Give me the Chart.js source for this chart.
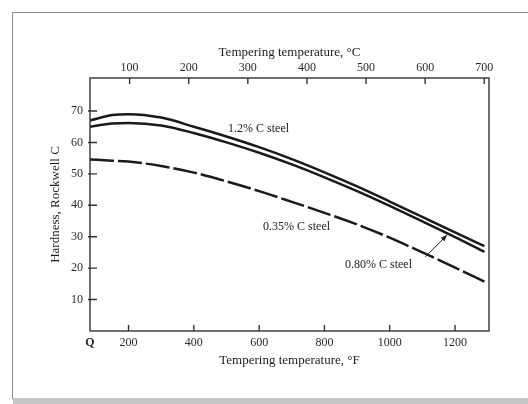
<!DOCTYPE html>
<html>
<head>
<meta charset="utf-8">
<script src="https://cdn.jsdelivr.net/npm/chart.js@4/dist/chart.umd.min.js"></script>
<style>
  html, body { margin: 0; padding: 0; background: #fff; }
  #wrap { position: relative; width: 528px; height: 404px; overflow: hidden; }
  #frame { position: absolute; left: 12px; top: 12px; width: 600px; height: 386px;
           border-left: 1.5px solid #8a8a8a; border-top: 1.5px solid #8a8a8a; }
  #band { position: absolute; left: 13px; top: 398px; width: 520px; height: 6px; background: #c6c6c6; }
  canvas { position: absolute; left: 0; top: 0; }
</style>
</head>
<body>
<div id="wrap">
  <div id="frame"></div>
  <div id="band"></div>
  <canvas id="hardnessChart" width="528" height="404"></canvas>
</div>
<script>
// Tempering temperature (°F) and hardness
const tempF    = [82, 150, 200, 300, 400, 500, 600, 700, 800, 900, 1000, 1100, 1200, 1290];
const steel120 = [67.0, 68.7, 69.0, 67.9, 65.0, 61.9, 58.5, 54.7, 50.5, 46.0, 41.2, 36.3, 31.4, 27.0];
const steel080 = [65.0, 66.0, 66.2, 65.4, 63.0, 60.0, 56.7, 53.0, 48.9, 44.5, 39.8, 34.9, 29.9, 25.2];
const steel035 = [54.6, 54.2, 53.9, 52.5, 50.4, 47.6, 44.5, 41.1, 37.6, 33.9, 29.7, 25.0, 20.2, 15.7];

// axis ticks
const tickF = [82, 200, 400, 600, 800, 1000, 1200];   // first one is "Q" (as quenched)
const tickC = [100, 200, 300, 400, 500, 600, 700];
const tickHardness = [10, 20, 30, 40, 50, 60, 70];

// curve labels, in data units (°F, HRC)
const labels = [
  { text: '1.2% C steel',  x: 505, y: 64.4 },
  { text: '0.35% C steel', x: 612, y: 33.0 },
  { text: '0.80% C steel', x: 863, y: 21.0 }
];
const arrowFrom = { x: 1109, y: 23.6 };
const arrowTo   = { x: 1176, y: 30.6 };

const serif = '"Liberation Serif", "DejaVu Serif", serif';
const ink = '#1a1a1a';

function toPoints(ys) {
  return tempF.map((t, i) => ({ x: t, y: ys[i] }));
}

const frameAndNotes = {
  id: 'frameAndNotes',
  afterDatasetsDraw(chart) {
    const { ctx, chartArea: a, scales } = chart;
    ctx.save();
    ctx.strokeStyle = '#333';
    ctx.lineWidth = 1.4;
    ctx.strokeRect(a.left, a.top, a.right - a.left, a.bottom - a.top);

    // inward tick marks
    ctx.beginPath();
    tickHardness.forEach(v => {
      const y = scales.y.getPixelForValue(v);
      ctx.moveTo(a.left - 2, y); ctx.lineTo(a.left + 7, y);
    });
    tickF.slice(1).forEach(v => {
      const x = scales.x.getPixelForValue(v);
      ctx.moveTo(x, a.bottom); ctx.lineTo(x, a.bottom - 6);
    });
    tickC.forEach(v => {
      const x = scales.x2.getPixelForValue(v);
      ctx.moveTo(x, a.top); ctx.lineTo(x, a.top + 6);
    });
    ctx.stroke();

    // curve labels
    ctx.fillStyle = '#222';
    ctx.font = '12px ' + serif;
    ctx.textBaseline = 'middle';
    ctx.textAlign = 'left';
    labels.forEach(l => {
      ctx.fillText(l.text, scales.x.getPixelForValue(l.x), scales.y.getPixelForValue(l.y));
    });

    // arrow from 0.80% label to its curve
    const x0 = scales.x.getPixelForValue(arrowFrom.x), y0 = scales.y.getPixelForValue(arrowFrom.y);
    const x1 = scales.x.getPixelForValue(arrowTo.x),   y1 = scales.y.getPixelForValue(arrowTo.y);
    ctx.strokeStyle = '#222';
    ctx.lineWidth = 1;
    ctx.beginPath(); ctx.moveTo(x0, y0); ctx.lineTo(x1, y1); ctx.stroke();
    const ang = Math.atan2(y1 - y0, x1 - x0);
    ctx.beginPath();
    ctx.moveTo(x1, y1);
    ctx.lineTo(x1 - 7 * Math.cos(ang - 0.35), y1 - 7 * Math.sin(ang - 0.35));
    ctx.lineTo(x1 - 7 * Math.cos(ang + 0.35), y1 - 7 * Math.sin(ang + 0.35));
    ctx.closePath();
    ctx.fillStyle = '#222';
    ctx.fill();
    ctx.restore();
  }
};

const lineStyle = {
  borderColor: ink,
  borderWidth: 2.5,
  pointRadius: 0,
  fill: false,
  cubicInterpolationMode: 'monotone'
};

new Chart(document.getElementById('hardnessChart').getContext('2d'), {
  type: 'line',
  data: {
    datasets: [
      Object.assign({ label: '1.2% C steel', data: toPoints(steel120) }, lineStyle),
      Object.assign({ label: '0.80% C steel', data: toPoints(steel080) }, lineStyle),
      Object.assign({ label: '0.35% C steel', data: toPoints(steel035), borderDash: [24, 4] }, lineStyle)
    ]
  },
  options: {
    responsive: false,
    animation: false,
    layout: { padding: { left: 0, top: 0, right: 39, bottom: 0 } },
    plugins: { legend: { display: false }, tooltip: { enabled: false } },
    scales: {
      x: {
        type: 'linear',
        position: 'bottom',
        min: 82,
        max: 1304,
        grid: { display: false, drawTicks: false },
        border: { display: false },
        afterBuildTicks: s => { s.ticks = tickF.map(v => ({ value: v })); },
        afterFit: s => { s.height = 73; },
        ticks: {
          autoSkip: false,
          maxRotation: 0,
          padding: 5,
          color: '#2a2a2a',
          font: c => ({ family: serif, size: 12, weight: c.tick && c.tick.value === tickF[0] ? 'bold' : 'normal' }),
          callback: v => v === tickF[0] ? 'Q' : v
        },
        title: {
          display: true,
          text: 'Tempering temperature, °F',
          color: '#222',
          font: { family: serif, size: 13 },
          padding: { top: 0, bottom: 36 }
        }
      },
      x2: {
        type: 'linear',
        position: 'top',
        min: 33,
        max: 708,
        grid: { display: false, drawTicks: false },
        border: { display: false },
        afterBuildTicks: s => { s.ticks = tickC.map(v => ({ value: v })); },
        afterFit: s => { s.height = 78; },
        ticks: {
          autoSkip: false,
          maxRotation: 0,
          padding: 3,
          color: '#2a2a2a',
          font: { family: serif, size: 12 }
        },
        title: {
          display: true,
          text: 'Tempering temperature, °C',
          color: '#222',
          font: { family: serif, size: 13 },
          padding: { top: 45, bottom: 0 }
        }
      },
      y: {
        type: 'linear',
        min: 0,
        max: 80.5,
        grid: { display: false, drawTicks: false },
        border: { display: false },
        afterBuildTicks: s => { s.ticks = tickHardness.map(v => ({ value: v })); },
        afterFit: s => { s.width = 90; },
        ticks: {
          padding: 7,
          color: '#2a2a2a',
          font: { family: serif, size: 12 }
        },
        title: {
          display: true,
          text: 'Hardness, Rockwell C',
          color: '#222',
          font: { family: serif, size: 13 },
          padding: { top: 48, bottom: 0 }
        }
      }
    }
  },
  plugins: [frameAndNotes]
});
</script>
</body>
</html>
